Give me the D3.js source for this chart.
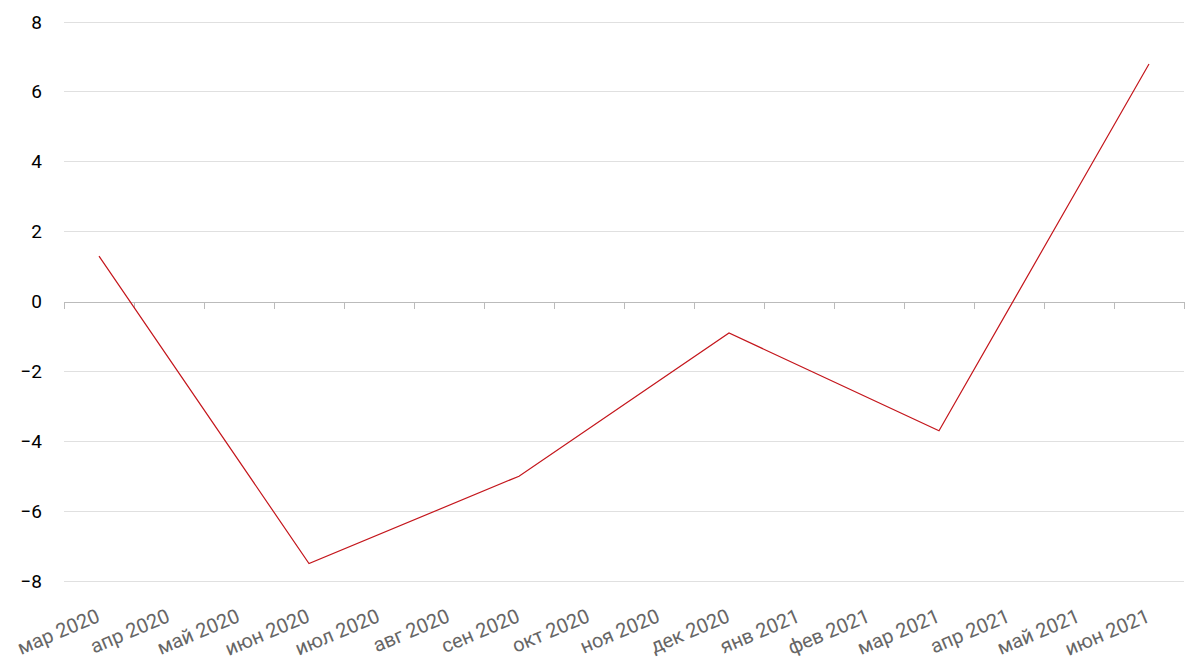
<!DOCTYPE html>
<html><head><meta charset="utf-8">
<script src="https://cdn.jsdelivr.net/npm/d3@7"></script>
<style>body{margin:0;background:#fff;font-family:Roboto,sans-serif}</style>
</head><body><svg id="c" width="1200" height="668"></svg>
<script>
const categories = ["мар 2020","апр 2020","май 2020","июн 2020","июл 2020","авг 2020","сен 2020","окт 2020","ноя 2020","дек 2020","янв 2021","фев 2021","мар 2021","апр 2021","май 2021","июн 2021"];
const pointMonths = ["мар 2020","июн 2020","сен 2020","дек 2020","мар 2021","июн 2021"];
const pointValues = [1.3, -7.5, -5.0, -0.9, -3.7, 6.8];
const yTicks = [-8,-6,-4,-2,0,2,4,6,8];

const svg = d3.select("#c");
const x = d3.scaleBand().domain(categories).range([64,1184]);
const y = d3.scaleLinear().domain([-8,8]).range([581,22]);

svg.append("g").selectAll("line").data(yTicks.filter(d=>d!==0)).join("line")
  .attr("x1",64).attr("x2",1184).attr("y1",d=>y(d)).attr("y2",d=>y(d))
  .attr("stroke","#e0e0e0").attr("stroke-width",1).attr("shape-rendering","crispEdges");

const ya = svg.append("g").attr("transform","translate(64,0)")
  .call(d3.axisLeft(y).tickValues(yTicks).tickSize(0).tickPadding(22).tickFormat(d3.format("d")));
ya.select(".domain").remove();
ya.selectAll("text").attr("font-family","Roboto,sans-serif").attr("font-size",19).attr("fill","#000");

const xa = svg.append("g").attr("transform",`translate(0,${y(0)})`)
  .call(d3.axisBottom(x).tickSizeInner(0).tickSizeOuter(0));
xa.select(".domain").attr("stroke","#bbb").attr("shape-rendering","crispEdges");
xa.selectAll(".tick text").remove();
svg.append("g").selectAll("line").data(categories.concat(["_end"])).join("line")
  .attr("x1",(d,i)=>i<categories.length?x(d):x.range()[1]).attr("x2",(d,i)=>i<categories.length?x(d):x.range()[1])
  .attr("y1",y(0)).attr("y2",y(0)+7).attr("stroke","#bbb").attr("shape-rendering","crispEdges");

const xl = svg.append("g").attr("transform","translate(0,581)")
  .call(d3.axisBottom(x).tickSize(0).tickPadding(0));
xl.select(".domain").remove();
xl.selectAll("text").attr("font-family","Roboto,sans-serif").attr("font-size",20).attr("fill","#666")
  .attr("text-anchor","end").attr("dy",0)
  .attr("transform","translate(2,40) rotate(-23)");

const line = d3.line().x((d,i)=>x(pointMonths[i])+x.bandwidth()/2).y(d=>y(d));
svg.append("path").datum(pointValues).attr("d",line).attr("fill","none")
  .attr("stroke","#c4161c").attr("stroke-width",1.2);
</script></body></html>
